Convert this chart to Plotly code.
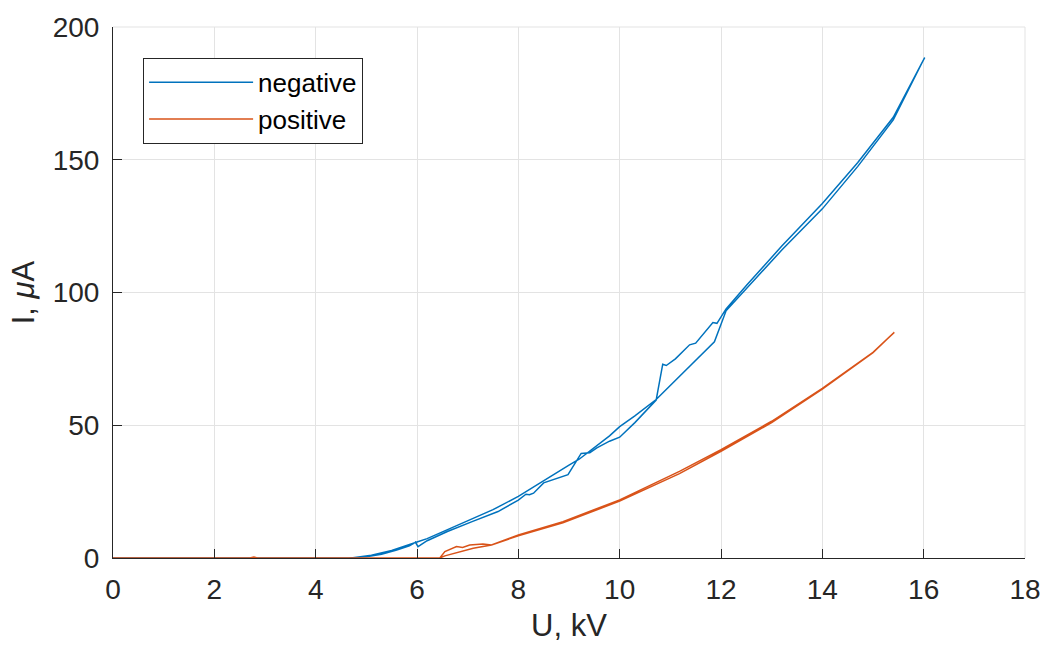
import plotly.graph_objects as go

# Negative corona: rising (wavy) branch then returning (smooth) branch
neg_up_U = [0, 1, 2, 3, 4, 4.65, 5.0, 5.3, 5.6, 5.85, 5.97, 6.02, 6.2, 6.6, 7.1, 7.6, 8.0, 8.15, 8.22,
            8.3, 8.5, 8.7, 8.98, 9.24, 9.41, 9.55, 9.8, 10.0, 10.3, 10.72, 10.8, 10.85, 10.92, 11.1,
            11.38, 11.5, 11.84, 11.92, 12.1, 12.5, 13.2, 14.0, 14.7, 15.4, 16.02]
neg_up_I = [0, 0, 0, 0, 0, 0, 0.5, 1.4, 3.0, 4.6, 5.9, 4.3, 6.5, 10.0, 13.8, 17.5, 21.8, 24.0, 23.8,
            24.4, 28.3, 29.5, 31.4, 39.4, 39.6, 41.5, 44.0, 45.5, 51.0, 59.5, 67.0, 73.0, 72.5, 75.0,
            80.3, 80.9, 88.7, 88.4, 93.8, 102.6, 117.5, 133.5, 149.0, 166.0, 188.5]
neg_dn_U = [16.02, 15.4, 14.7, 14.0, 13.2, 12.5, 12.1, 11.87, 11.3, 10.72, 10.3, 10.0, 9.8, 9.5,
            9.2, 9.0, 8.6, 8.3, 8.0, 7.5, 7.0, 6.5, 6.2, 6.0, 5.8, 5.5, 5.1, 4.7, 3, 0]
neg_dn_I = [188.5, 165.0, 147.5, 131.5, 116.0, 101.5, 93.1, 81.4, 70.5, 59.7, 53.5, 49.5, 46.0, 41.5,
            37.2, 35.0, 30.2, 26.5, 23.2, 18.2, 14.0, 10.0, 7.3, 6.0, 4.8, 2.8, 1.0, 0, 0, 0]

# Positive corona: rising then returning branch
pos_up_U = [0, 2.7, 2.78, 2.85, 6.45, 6.55, 6.78, 6.9, 7.04, 7.3, 7.47, 8.0, 8.88, 10.0, 11.18,
            12.0, 13.0, 14.0, 15.0, 15.42]
pos_up_I = [0, 0, 0.4, 0, 0, 2.4, 4.3, 4.0, 4.9, 5.3, 4.9, 8.7, 13.7, 21.9, 32.6,
            40.8, 51.5, 63.9, 77.5, 85.0]
pos_dn_U = [15.42, 15.0, 14.0, 13.0, 12.0, 11.18, 10.0, 8.88, 8.0, 7.47, 7.11, 6.78, 6.55, 6.45, 0]
pos_dn_I = [85.0, 77.3, 63.6, 51.0, 40.2, 31.8, 21.4, 13.3, 8.4, 4.9, 3.7, 2.0, 0.8, 0, 0]

x_ticks = [0, 2, 4, 6, 8, 10, 12, 14, 16, 18]
y_ticks = [0, 50, 100, 150, 200]

BLUE = "#0072BD"
ORANGE = "#D95319"
AX = "#262626"
GRID = "#E3E3E3"
FONT = "Liberation Sans, Arial, Helvetica, sans-serif"

fig = go.Figure()
fig.add_trace(go.Scatter(x=neg_up_U + neg_dn_U, y=neg_up_I + neg_dn_I, mode="lines",
                         name="negative", line=dict(color=BLUE, width=1.5)))
fig.add_trace(go.Scatter(x=pos_up_U + pos_dn_U, y=pos_up_I + pos_dn_I, mode="lines",
                         name="positive", line=dict(color=ORANGE, width=1.5)))

fig.update_layout(
    width=1044, height=645,
    margin=dict(l=113, r=19, t=27, b=87),
    paper_bgcolor="white", plot_bgcolor="white",
    font=dict(family=FONT, color=AX),
    legend=dict(x=0.033, y=0.942, xanchor="left", yanchor="top",
                bgcolor="white", bordercolor=AX, borderwidth=1,
                font=dict(size=26, color="black", family=FONT),
                itemwidth=104, entrywidth=128),
    showlegend=True,
)
fig.update_xaxes(range=[0, 18], tickvals=x_ticks, ticks="inside", ticklen=9, tickcolor=AX,
                 showline=True, linecolor=AX, linewidth=1, mirror=False, automargin=False,
                 showgrid=True, gridcolor=GRID, gridwidth=1, zeroline=False,
                 tickfont=dict(size=28, color=AX), ticklabelstandoff=6,
                 title=dict(text="U, kV", font=dict(size=31, color=AX), standoff=10))
fig.update_yaxes(range=[0, 200], tickvals=y_ticks, ticks="inside", ticklen=9, tickcolor=AX,
                 showline=True, linecolor=AX, linewidth=1, mirror=False, automargin=False,
                 showgrid=True, gridcolor=GRID, gridwidth=1, zeroline=False,
                 tickfont=dict(size=28, color=AX), ticklabelstandoff=7,
                 title=dict(text="I, <i>μ</i>A", font=dict(size=31, color=AX), standoff=8))

# top and right boundary drawn as light grid-coloured lines, as in the reference
fig.add_shape(type="line", xref="paper", yref="paper", x0=0, x1=1, y0=1, y1=1,
              line=dict(color=GRID, width=1), layer="below")
fig.add_shape(type="line", xref="paper", yref="paper", x0=1, x1=1, y0=0, y1=1,
              line=dict(color=GRID, width=1), layer="below")

fig.write_html("out.html")
